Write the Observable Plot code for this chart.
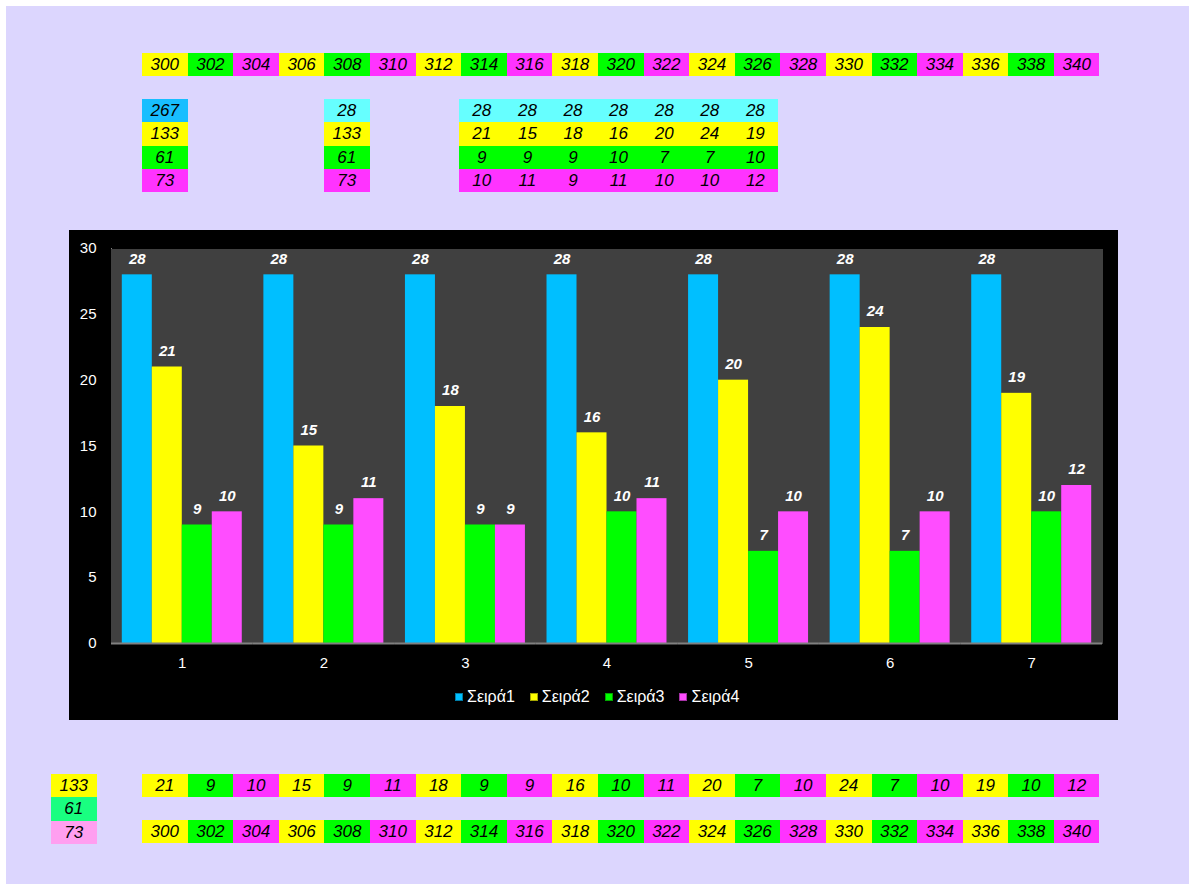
<!DOCTYPE html>
<html><head><meta charset="utf-8">
<script src="https://cdn.jsdelivr.net/npm/d3@7"></script>
<script src="https://cdn.jsdelivr.net/npm/@observablehq/plot@0.6"></script>
<style>
body{margin:0;background:#fff;width:1189px;height:884px;overflow:hidden;position:relative;font-family:"Liberation Sans",Arial,sans-serif}
#page{position:absolute;left:6px;top:6px;width:1183px;height:878px;background:#DCD6FE}
.row{position:absolute;display:flex}
.cell{width:45.6px;height:23.3px;line-height:23.3px;text-align:center;font-style:italic;font-size:17px;color:#000;flex:none}
#chart{position:absolute;left:69px;top:230px;width:1049px;height:490px;background:#000}
#chart svg{position:absolute;left:0;top:0}
#chart svg text{fill:#fff;font-size:15px}
#legend{position:absolute;left:386px;top:458px;display:flex;align-items:center;color:#fff;font-size:16px;white-space:nowrap}
#legend .item{display:flex;align-items:center;margin-right:15px}
#legend .sw{width:8px;height:8px;margin-right:4px;box-shadow:inset 0 0 0 1px rgba(0,0,0,0.35)}
</style></head>
<body>
<div id="page"></div>
<div id="chart"></div>
<script>
// ---- data ----
const groups = [1, 2, 3, 4, 5, 6, 7];
const seriesNames = ["Σειρά1", "Σειρά2", "Σειρά3", "Σειρά4"];
const s1 = [28, 28, 28, 28, 28, 28, 28];
const s2 = [21, 15, 18, 16, 20, 24, 19];
const s3 = [9, 9, 9, 10, 7, 7, 10];
const s4 = [10, 11, 9, 11, 10, 10, 12];
const totals = [267, 133, 61, 73];
const middleCol = [28, 133, 61, 73];
const bottomTotals = [133, 61, 73];
const seqRow = [300, 302, 304, 306, 308, 310, 312, 314, 316, 318, 320, 322, 324, 326, 328, 330, 332, 334, 336, 338, 340];
const interleaved = [21, 9, 10, 15, 9, 11, 18, 9, 9, 16, 10, 11, 20, 7, 10, 24, 7, 10, 19, 10, 12];

// ---- styles ----
const barColors = ["#00BFFF", "#FFFF00", "#00FF00", "#FF4DFF"];
const Y = "#FFFF00", G = "#00FF00", M = "#FF33FF";
const cycle3 = [Y, G, M];

function row(values, colors, left, top) {
  const r = document.createElement("div");
  r.className = "row";
  r.style.left = left + "px"; r.style.top = top + "px";
  values.forEach((v, i) => {
    const c = document.createElement("div");
    c.className = "cell";
    c.textContent = v;
    c.style.background = colors[i % colors.length];
    r.appendChild(c);
  });
  document.body.appendChild(r);
}
function col(values, colors, left, top) {
  values.forEach((v, i) => row([v], [colors[i]], left, top + i * 23.3));
}

row(seqRow, cycle3, 142, 53);
col(totals, ["#18BEFF", Y, G, M], 142, 99);
col(middleCol, ["#66FFFF", Y, G, M], 324, 99);
const tblColors = ["#66FFFF", Y, G, M];
[s1, s2, s3, s4].forEach((s, k) => row(s, [tblColors[k]], 459, 99 + k * 23.3));
col(bottomTotals, [Y, "#19FF80", "#FF9FF0"], 51, 774);
row(interleaved, cycle3, 142, 774);
row(seqRow, cycle3, 142, 820);

// ---- chart ----
const allSeries = [s1, s2, s3, s4];
const data = groups.flatMap((g, i) => seriesNames.map((s, k) => ({group: g, series: s, value: allSeries[k][i]})));

const plot = Plot.plot({
  width: 1049, height: 490,
  marginLeft: 42, marginRight: 16, marginTop: 18, marginBottom: 77,
  style: {background: "transparent", color: "#808080", fontFamily: "Liberation Sans, Arial, sans-serif", fontSize: "15px", overflow: "visible"},
  fx: {padding: 0, round: false, tickSize: 0, tickPadding: 14, label: null, axis: "bottom"},
  x: {domain: seriesNames, paddingInner: 0, paddingOuter: 0.36, round: false, axis: null},
  y: {domain: [0, 30], ticks: [0, 5, 10, 15, 20, 25, 30], tickSize: 0, tickPadding: 15, line: true, label: null},
  color: {domain: seriesNames, range: barColors},
  marks: [
    Plot.frame({fill: "#404040", stroke: "none", insetLeft: -0.6, insetRight: -0.6, shapeRendering: "crispEdges"}),
    Plot.barY(data, {fx: "group", x: "series", y: "value", fill: "series"}),
    Plot.ruleY([0], {stroke: "#808080", strokeWidth: 2}),
    Plot.text(data, {fx: "group", x: "series", y: "value", text: "value", dy: -16, fill: "#fff", fontWeight: "bold", fontStyle: "italic", fontSize: 15})
  ]
});
const chart = document.getElementById("chart");
chart.appendChild(plot);

const lg = document.createElement("div");
lg.id = "legend";
seriesNames.forEach((s, k) => {
  const it = document.createElement("div"); it.className = "item";
  const sw = document.createElement("div"); sw.className = "sw"; sw.style.background = barColors[k];
  const t = document.createElement("span"); t.textContent = s;
  it.appendChild(sw); it.appendChild(t); lg.appendChild(it);
});
chart.appendChild(lg);
</script>
</body></html>
